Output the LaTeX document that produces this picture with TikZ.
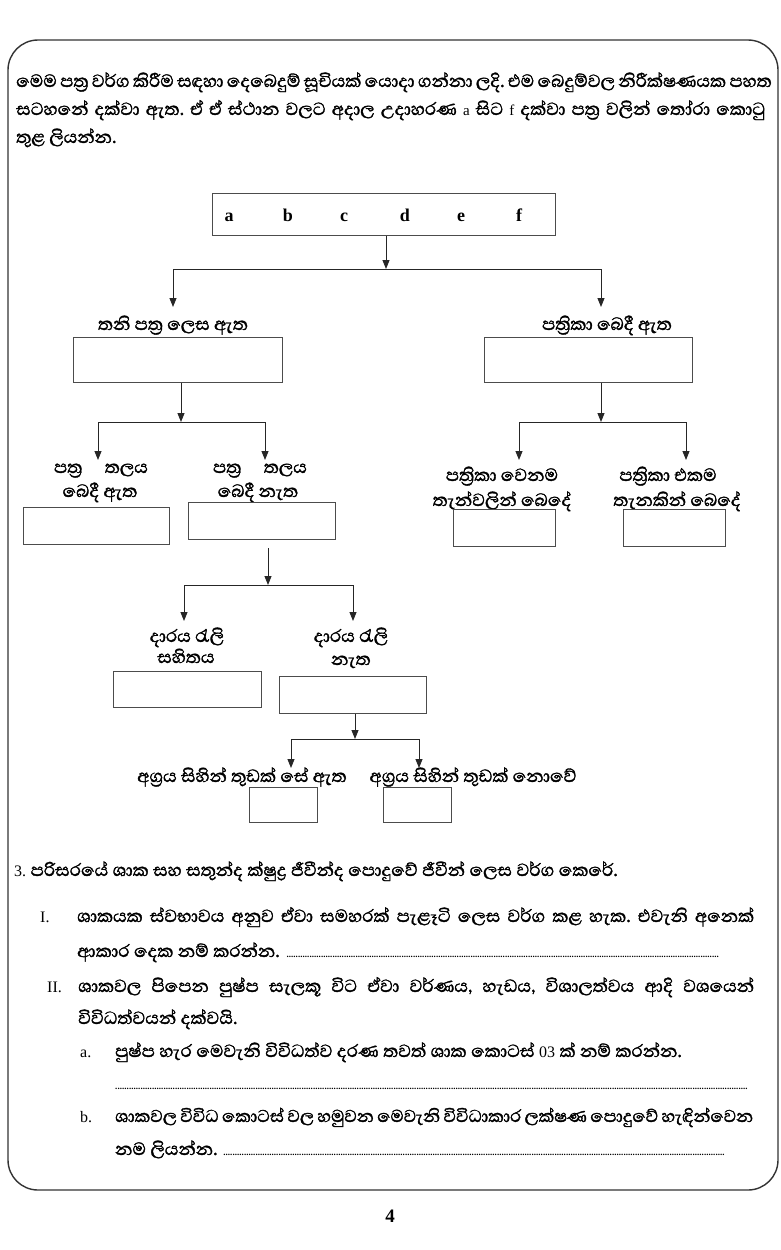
\documentclass[tikz,border=0pt]{standalone}
\usepackage{fontspec}
\setmainfont{Liberation Serif}
\newfontfamily\sinhfont[Script=Sinhala,FakeBold=1.5]{Abhaya Libre}
\usetikzlibrary{arrows.meta}
\frenchspacing
\newcommand\dotlead{\leaders\hbox to 2.3pt{\hss{\rmfamily\bfseries\fontsize{9}{9}\selectfont.}\hss}\hfill}
\newcommand\bodysize{\fontsize{22.5}{26}\selectfont\spaceskip 0.2em plus 0.6em minus 0.05em\relax}
\newcommand\smallbody{\fontsize{22}{26}\selectfont\spaceskip 0.18em plus 0.6em minus 0.05em\relax}
\newcommand\latsmall{\rmfamily\fontsize{15}{18}\selectfont}
\newcommand\numsize{\rmfamily\fontsize{16}{18}\selectfont}
\begin{document}
\begin{tikzpicture}[x=1pt,y=-1pt,
  box/.style={draw=black!70,line width=1pt,inner sep=0pt},
  conn/.style={draw=black!85,line width=0.9pt},
  arr/.style={conn,-{Triangle[length=9pt,width=7pt]}},
  si/.style={font=\sinhfont\bodysize,inner sep=0pt},
  sl/.style={font=\sinhfont\fontsize{22.5}{24}\selectfont,inner sep=0pt},
  lbl/.style={sl,anchor=base},
  txt/.style={si,anchor=base west},
  num/.style={font=\numsize,inner sep=0pt,anchor=base west},
  lat/.style={font=\rmfamily\bfseries\fontsize{18}{20}\selectfont,inner sep=0pt,anchor=base}]
\useasboundingbox (0,0) rectangle (781,1250);
\fill[white] (0,0) rectangle (781,1250);
\draw[line width=1.4pt,black!80,rounded corners=30pt] (8,40) rectangle (778,1190);

% intro text
\node[txt] (p1) at (16,87) {\hbox to 752pt{මෙම පත්‍ර වර්ග කිරීම සඳහා දෙබෙදුම් සූචියක් යොදා ගන්නා ලදි. එම බෙදුම්වල නිරීක්ෂණයක පහත}};
\node[txt] (p2) at (16,115) {\hbox to 749pt{සටහනේ දක්වා ඇත. ඒ ඒ ස්ථාන වලට අදාල උදාහරණ {\latsmall a} සිට {\latsmall f} දක්වා පත්‍ර වලින් තෝරා කොටු}};
\node[txt] (p3) at (16,143) {තුළ ලියන්න.};

% top box
\node[box,minimum width=343pt,minimum height=42pt] (top) at (383.5,214) {};
\foreach \l/\x in {a/229,b/288,c/344,d/405,e/461,f/519}
  \node[lat] (let\l) at (\x,221) {\l};

% level 1
\coordinate (j1) at (386,269);
\coordinate (t1) at (173,307);
\coordinate (t2) at (601,307);
\draw[arr] (top.south -| j1) -- (j1);
\draw[arr] (j1) -| (t1);
\draw[arr] (j1) -| (t2);
\node[lbl] (lt1) at (173,330) {තනි පත්‍ර ලෙස ඇත};
\node[lbl] (lt2) at (607,330) {පත්‍රිකා බෙදී ඇත};
\node[box,minimum width=209pt,minimum height=45pt] (bL) at (177.5,359.5) {};
\node[box,minimum width=208pt,minimum height=45pt] (bR) at (588,359.5) {};

% level 2 left
\coordinate (j2) at (181,422);
\coordinate (t3) at (98,460);
\coordinate (t4) at (265,460);
\draw[arr] (bL.south -| j2) -- (j2);
\draw[arr] (j2) -| (t3);
\draw[arr] (j2) -| (t4);
\node[lbl] (l3a) at (101,473) {පත්‍ර\quad තලය};
\node[lbl] (l3b) at (100,497) {බෙදී ඇත};
\node[lbl] (l4a) at (260,473) {පත්‍ර\quad තලය};
\node[lbl] (l4b) at (258,497) {බෙදී නැත};
\node[box,minimum width=146pt,minimum height=37pt] (bLL) at (96,525.5) {};
\node[box,minimum width=147pt,minimum height=37pt] (bLR) at (261.5,520.5) {};

% level 2 right
\coordinate (j3) at (601,422);
\coordinate (t5) at (519,460);
\coordinate (t6) at (686,460);
\draw[arr] (bR.south -| j3) -- (j3);
\draw[arr] (j3) -| (t5);
\draw[arr] (j3) -| (t6);
\node[lbl] (l5a) at (502,481) {පත්‍රිකා වෙනම};
\node[lbl] (l5b) at (502,506) {තැන්වලින් බෙදේ};
\node[lbl] (l6a) at (668,481) {පත්‍රිකා එකම};
\node[lbl] (l6b) at (677,506) {තැනකින් බෙදේ};
\node[box,minimum width=102pt,minimum height=37pt] (bRL) at (504,527.5) {};
\node[box,minimum width=102pt,minimum height=37pt] (bRR) at (674,527.5) {};

% level 3
\coordinate (s4) at (268,548);
\coordinate (j4) at (268,585);
\coordinate (t7) at (184,621);
\coordinate (t8) at (353,621);
\draw[arr] (s4) -- (j4);
\draw[arr] (j4) -| (t7);
\draw[arr] (j4) -| (t8);
\node[lbl] (l7a) at (187,642) {දාරය රැලි};
\node[lbl] (l7b) at (186,663) {සහිතය};
\node[lbl] (l8a) at (351,642) {දාරය රැලි};
\node[lbl] (l8b) at (351,665) {නැත};
\node[box,minimum width=148pt,minimum height=36pt] (bD1) at (187,689) {};
\node[box,minimum width=147pt,minimum height=37pt] (bD2) at (352.5,694.5) {};

% level 4
\coordinate (j5) at (355,739);
\coordinate (t9) at (291,768);
\coordinate (t10) at (419,768);
\draw[arr] (bD2.south -| j5) -- (j5);
\draw[arr] (j5) -| (t9);
\draw[arr] (j5) -| (t10);
\node[lbl] (l9) at (242,782) {අග්‍රය සිහින් තුඩක් සේ ඇත};
\node[lbl] (l10) at (473,782) {අග්‍රය සිහින් තුඩක් නොවේ};
\node[box,minimum width=68pt,minimum height=35pt] (bT1) at (283,804.5) {};
\node[box,minimum width=68pt,minimum height=35pt] (bT2) at (417,804.5) {};

% question 3
\node[txt] (q3) at (14,876) {{\numsize 3.} පරිසරයේ ශාක සහ සතුන්ද ක්ෂුද්‍ර ජීවීන්ද පොදුවේ ජීවීන් ලෙස වර්ග කෙරේ.};
\node[num] (n1) at (40,922) {I.};
\node[txt] (q1a) at (77,922) {\hbox to 677pt{ශාකයක ස්වභාවය අනුව ඒවා සමහරක් පැළෑටි ලෙස වර්ග කළ හැක. එවැනි අනෙක්}};
\node[txt] (q1b) at (77,957) {\hbox to 643pt{ආකාර දෙක නම් කරන්න. \dotlead}};
\node[num] (n2) at (47,992) {II.};
\node[txt] (q2a) at (78,992) {\hbox to 676pt{ශාකවල පිපෙන පුෂ්ප සැලකූ විට ඒවා වර්ණය, හැඩය, විශාලත්වය ආදි වශයෙන්}};
\node[txt] (q2b) at (78,1024) {විවිධත්වයන් දක්වයි.};
\node[num] (na) at (80,1057) {a.};
\node[txt] (qa) at (115,1057) {පුෂ්ප හැර මෙවැනි විවිධත්ව දරණ තවත් ශාක කොටස් {\numsize 03} ක් නම් කරන්න.};
\node[txt] (qad) at (115,1089) {\hbox to 633pt{\dotlead}};
\node[num] (nb) at (80,1122) {b.};
\node[txt] (qb1) at (115,1122) {\smallbody\hbox to 638pt{ශාකවල විවිධ කොටස් වල හමුවන මෙවැනි විවිධාකාර ලක්ෂණ පොදුවේ හැඳින්වෙන}};
\node[txt] (qb2) at (115,1155) {\hbox to 611pt{නම ලියන්න. \dotlead}};

\node[font=\rmfamily\bfseries\fontsize{19}{20}\selectfont,inner sep=0pt,anchor=base] (pg) at (390,1222) {4};
\end{tikzpicture}
\end{document}
